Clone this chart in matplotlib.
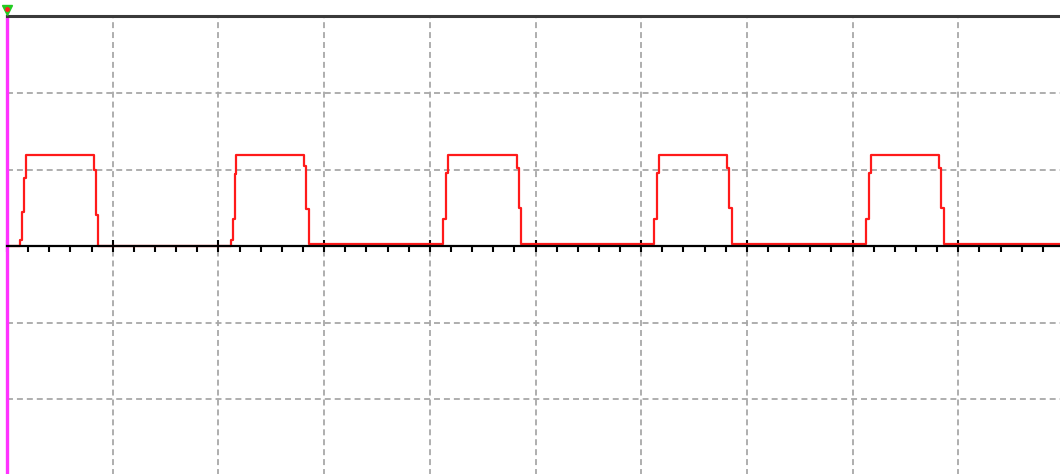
import matplotlib
matplotlib.use('Agg')
import matplotlib.pyplot as plt
from matplotlib.ticker import MultipleLocator

# red trace, sampled as (time in div, level in div), drawn step-post
trace_t = [0.0, 0.123, 0.142, 0.161, 0.180, 0.823, 0.842, 0.861,
           2.119, 2.138, 2.157, 2.166, 2.810, 2.829, 2.857,
           4.125, 4.153, 4.172, 4.825, 4.844, 4.863,
           6.121, 6.150, 6.168, 6.812, 6.831, 6.859,
           8.127, 8.155, 8.174, 8.817, 8.836, 8.865,
           10.0]
trace_v = [0.0, 0.08, 0.44, 0.89, 1.19, 0.99, 0.41, 0.0,
           0.08, 0.35, 0.94, 1.19, 1.05, 0.48, 0.026,
           0.35, 0.95, 1.19, 1.02, 0.50, 0.026,
           0.35, 0.95, 1.19, 1.02, 0.50, 0.026,
           0.35, 0.95, 1.19, 1.02, 0.50, 0.026,
           0.026]

fig = plt.figure(figsize=(10.6, 4.74), dpi=100)
ax = fig.add_axes([7 / 1060, -0.0032, 1057 / 1060, 0.9684])
ax.set_xlim(0, 10)
ax.set_ylim(-3, 3)

ax.plot(trace_t, trace_v, drawstyle='steps-post', color='#ff1a1a', lw=1.6, zorder=1.5)

# scope graticule
ax.xaxis.set_major_locator(MultipleLocator(1))
ax.xaxis.set_minor_locator(MultipleLocator(0.2))
ax.yaxis.set_major_locator(MultipleLocator(1))
ax.grid(True, which='major', color='#a8a8a8', lw=1.3, linestyle=(0, (3.3, 2.2)))
ax.set_axisbelow(True)

ax.spines['bottom'].set_position(('data', 0))
ax.spines['bottom'].set_color('black')
ax.spines['bottom'].set_linewidth(1.6)
ax.spines['bottom'].set_zorder(3)
ax.spines['top'].set_color('#3a3a3a')
ax.spines['top'].set_linewidth(2.2)
ax.spines['left'].set_color('#ff33ff')
ax.spines['left'].set_linewidth(2.4)
ax.spines['right'].set_visible(False)

ax.tick_params(axis='x', which='major', direction='inout', length=8, width=1.5,
               color='black', labelbottom=False)
ax.tick_params(axis='x', which='minor', direction='out', length=4, width=1.5,
               color='black')
ax.tick_params(axis='y', which='both', length=0, labelleft=False)

# trigger marker
ax.plot([0], [3.08], marker='v', color='#22cc22', markersize=7, clip_on=False, zorder=5)
ax.plot([0], [3.10], marker='o', color='#ff2020', markersize=2.5, clip_on=False, zorder=6)

fig.savefig('out.png', dpi=100)
